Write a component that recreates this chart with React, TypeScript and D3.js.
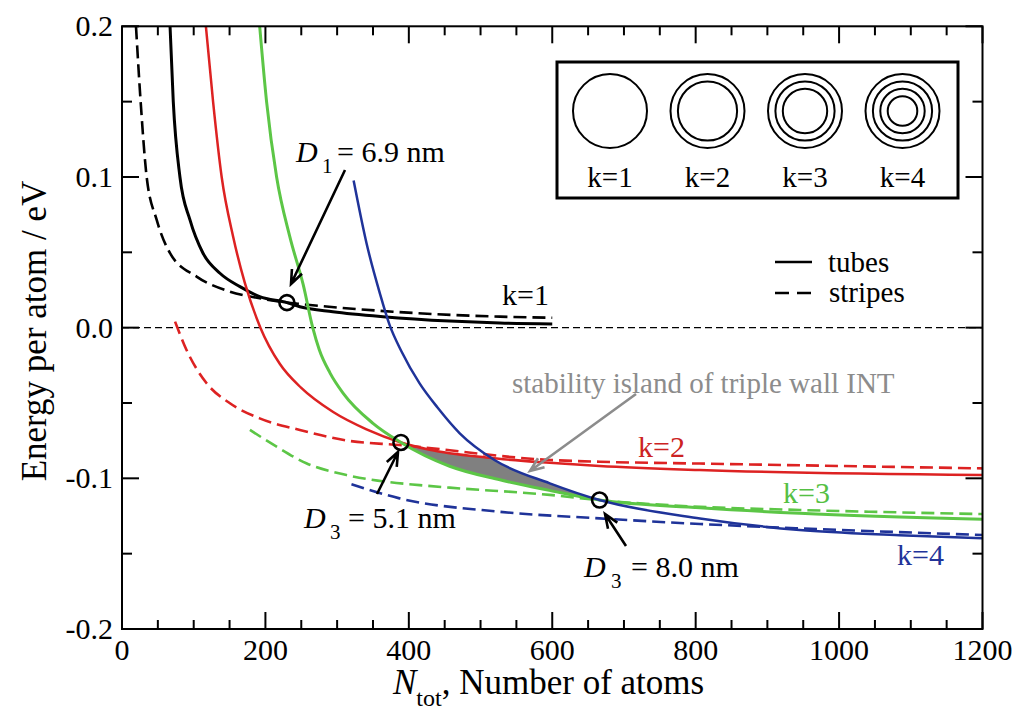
import React from "react";
import * as d3 from "d3";

type P = [number, number];

// ---------- data (N_tot, energy per atom in eV) ----------
const tubesK1: P[] = [[67, 0.2], [71.5, 0.15], [80.8, 0.1], [94.8, 0.0715], [113, 0.0494], [136.6, 0.0361], [164.5, 0.0272], [192, 0.0206], [230, 0.0166], [248, 0.0139], [294, 0.0106], [364, 0.0073], [457, 0.0044], [527, 0.0031], [600, 0.0025]];
const stripesK1: P[] = [[19.5, 0.2], [26, 0.15], [34.4, 0.1], [48.4, 0.0715], [67, 0.0494], [104, 0.0339], [150.5, 0.0239], [192, 0.0195], [230, 0.0166], [248, 0.0157], [378, 0.0106], [527, 0.0073], [600, 0.0066]];
const tubesK2: P[] = [[117, 0.2], [127, 0.15], [139, 0.1], [155, 0.0604], [171.4, 0.0295], [193, 0], [220, -0.024], [250, -0.04], [294.5, -0.056], [341, -0.0675], [389, -0.0762], [429, -0.081], [508, -0.0862], [596.5, -0.0897], [666, -0.0918], [805.6, -0.0945], [1200, -0.0978]];
const stripesK2: P[] = [[74, 0.004], [90, -0.0148], [118, -0.0369], [150.5, -0.0502], [192, -0.0602], [248, -0.0679], [318, -0.0752], [387, -0.0779], [596.5, -0.0878], [666, -0.089], [805.6, -0.0902], [1200, -0.0934]];
const tubesK3: P[] = [[192, 0.2], [201.6, 0.15], [215.6, 0.1], [234, 0.0604], [252.7, 0.0285], [266, 0], [275, -0.0145], [290, -0.03], [308.5, -0.0436], [350, -0.0635], [389, -0.0762], [457, -0.092], [527, -0.101], [596, -0.108], [666, -0.1144], [806, -0.1195], [945, -0.1232], [1200, -0.1272]];
const stripesK3: P[] = [[178.4, -0.0679], [215.6, -0.079], [257, -0.09], [313, -0.0978], [369, -0.1023], [415, -0.1045], [457, -0.1062], [596.5, -0.111], [666, -0.1145], [806, -0.1189], [945, -0.121], [1200, -0.1237]];
const tubesK4: P[] = [[323, 0.0976], [341, 0.056], [359.6, 0.0228], [373, 0.002], [390, -0.016], [415, -0.037], [440, -0.053], [471, -0.0701], [520, -0.088], [596.5, -0.1033], [666, -0.1144], [806, -0.1266], [945, -0.1343], [1084, -0.1377], [1200, -0.1398]];
const stripesK4: P[] = [[320, -0.104], [387, -0.1133], [527, -0.1222], [666, -0.1266], [806, -0.1303], [945, -0.1332], [1200, -0.1376]];

const crossPoints: P[] = [[230, 0.0166], [389, -0.0762], [666, -0.1144]];
const xMajorTicks = [0, 200, 400, 600, 800, 1000, 1200];
const yMajorTicks = [-0.2, -0.1, 0, 0.1, 0.2];
const yTickLabels = ["-0.2", "-0.1", "0.0", "0.1", "0.2"];
const kValues = [1, 2, 3, 4];
const kColors = ["#000000", "#dd2222", "#5cc646", "#1f3399"];
const kTextColors = ["#000000", "#cc2222", "#55c043", "#223399"];

const FONT = "Liberation Serif";

const L = 122, R = 982.5, T = 26.3, B = 629;
const x = d3.scaleLinear().domain([0, 1200]).range([L, R]);
const y = d3.scaleLinear().domain([-0.2, 0.2]).range([B, T]);
const line = d3.line<P>().x(d => x(d[0])).y(d => y(d[1])).curve(d3.curveMonotoneX);

function arrow(x1: number, y1: number, x2: number, y2: number, len = 15, ang = 0.38) {
  const a = Math.atan2(y2 - y1, x2 - x1);
  const p1 = [x2 - len * Math.cos(a - ang), y2 - len * Math.sin(a - ang)];
  const p2 = [x2 - len * Math.cos(a + ang), y2 - len * Math.sin(a + ang)];
  return `M${x1},${y1}L${x2},${y2}M${p1[0]},${p1[1]}L${x2},${y2}L${p2[0]},${p2[1]}`;
}

function closeTo(pts: P[], yEdge: number) {
  const first = pts[0], last = pts[pts.length - 1];
  return `${line(pts)}L${x(last[0])},${yEdge}L${x(first[0])},${yEdge}Z`;
}

export default function App() {
  const series = [
    { k: 1, solid: tubesK1, dashed: stripesK1, w: 3 },
    { k: 2, solid: tubesK2, dashed: stripesK2, w: 2.5 },
    { k: 3, solid: tubesK3, dashed: stripesK3, w: 3 },
    { k: 4, solid: tubesK4, dashed: stripesK4, w: 2.5 },
  ];
  const xMinor = x.ticks(24);
  const yMinor = y.ticks(8);
  const fillX0 = x(crossPoints[1][0]);
  const fillX1 = x(crossPoints[2][0]);

  return (
    <svg width={1024} height={718} style={{ position: "absolute", left: 0, top: 0, fontFamily: FONT }}>
      <defs>
        <clipPath id="plot"><rect x={L} y={T} width={R - L} height={B - T} /></clipPath>
        <clipPath id="aboveGreen"><path d={closeTo(tubesK3, T - 20)} /></clipPath>
        <clipPath id="belowRed"><path d={closeTo(tubesK2, B + 20)} /></clipPath>
        <clipPath id="belowBlue"><path d={closeTo(tubesK4, B + 20)} /></clipPath>
      </defs>
      <rect width={1024} height={718} fill="#fff" />

      <g clipPath="url(#plot)">
        <line x1={L} x2={R} y1={y(0)} y2={y(0)} stroke="#000" strokeWidth={1.4} strokeDasharray="7,4" />
        <g clipPath="url(#aboveGreen)">
          <g clipPath="url(#belowRed)">
            <rect x={fillX0} y={T} width={fillX1 - fillX0} height={B - T} fill="#808080" clipPath="url(#belowBlue)" />
          </g>
        </g>
        {series.map((s, i) => (
          <g key={s.k}>
            <path d={line(s.dashed) || ""} fill="none" stroke={kColors[i]} strokeWidth={2.6} strokeDasharray="13,6" />
            <path d={line(s.solid) || ""} fill="none" stroke={kColors[i]} strokeWidth={s.w} />
          </g>
        ))}
      </g>

      {crossPoints.map((p, i) => (
        <circle key={i} cx={x(p[0])} cy={y(p[1])} r={7.5} fill="none" stroke="#000" strokeWidth={2.6} />
      ))}

      {/* annotation arrows */}
      <path d={arrow(345, 170, 291, 284)} fill="none" stroke="#000" strokeWidth={2.6} />
      <path d={arrow(377, 494, 398, 452)} fill="none" stroke="#000" strokeWidth={2.6} />
      <path d={arrow(626, 546, 605, 514)} fill="none" stroke="#000" strokeWidth={2.6} />
      <path d={arrow(636, 394, 530, 471)} fill="none" stroke="#8c8c8c" strokeWidth={2.6} />

      <g style={{ fontFamily: FONT }}>
        {/* annotation texts */}
        <text x={296} y={162} fontSize={30}>
          <tspan fontStyle="italic">D</tspan>
          <tspan x={322} dy={11} fontSize={21}>1</tspan>
          <tspan x={337} dy={-11}>= 6.9 nm</tspan>
        </text>
        <text x={304} y={528} fontSize={30}>
          <tspan fontStyle="italic">D</tspan>
          <tspan x={330} dy={11} fontSize={21}>3</tspan>
          <tspan x={348} dy={-11}>= 5.1 nm</tspan>
        </text>
        <text x={584} y={577} fontSize={30}>
          <tspan fontStyle="italic">D</tspan>
          <tspan x={611} dy={11} fontSize={21}>3</tspan>
          <tspan x={631} dy={-11}>= 8.0 nm</tspan>
        </text>
        <text x={512} y={393} fontSize={29} fill="#8c8c8c">stability island of triple wall INT</text>
        <text x={502} y={305} fontSize={30} fill={kTextColors[0]}>k=1</text>
        <text x={638} y={457} fontSize={30} fill={kTextColors[1]}>k=2</text>
        <text x={783} y={503} fontSize={30} fill={kTextColors[2]}>k=3</text>
        <text x={897} y={565} fontSize={30} fill={kTextColors[3]}>k=4</text>

        {xMajorTicks.map(v => (
          <text key={"xl" + v} x={x(v)} y={660} fontSize={30} textAnchor="middle">{v}</text>
        ))}
        {yMajorTicks.map((v, i) => (
          <text key={"yl" + v} x={113} y={y(v) + 10} fontSize={30} textAnchor="end">{yTickLabels[i]}</text>
        ))}

        {/* axis titles */}
        <text x={393} y={694} fontSize={35}>
          <tspan fontStyle="italic">N</tspan>
          <tspan fontSize={24} dy={12}>tot</tspan>
          <tspan dy={-12}>, Number of atoms</tspan>
        </text>
        <text transform="translate(46,331) rotate(-90)" fontSize={35} textAnchor="middle">Energy per atom / eV</text>
      </g>

      {/* frame and ticks */}
      <rect x={L} y={T} width={R - L} height={B - T} fill="none" stroke="#000" strokeWidth={2} />
      {xMinor.map(v => {
        const major = xMajorTicks.includes(v);
        const len = major ? 17 : 9;
        return (
          <g key={"x" + v}>
            <line x1={x(v)} x2={x(v)} y1={B} y2={B - len} stroke="#000" strokeWidth={2} />
            <line x1={x(v)} x2={x(v)} y1={T} y2={T + len} stroke="#000" strokeWidth={2} />
          </g>
        );
      })}
      {yMinor.map(v => {
        const major = yMajorTicks.some(t => Math.abs(t - v) < 1e-9);
        const len = major ? 17 : 10;
        return (
          <g key={"y" + v}>
            <line x1={L} x2={L + len} y1={y(v)} y2={y(v)} stroke="#000" strokeWidth={2} />
            <line x1={R} x2={R - len} y1={y(v)} y2={y(v)} stroke="#000" strokeWidth={2} />
          </g>
        );
      })}

      {/* inset */}
      <rect x={557} y={62} width={401} height={136} fill="#fff" stroke="#000" strokeWidth={3} />
      {kValues.map((k, i) => {
        const cx = 610 + i * 97.5;
        return (
          <g key={"ins" + k}>
            {d3.range(k).map(j => (
              <circle key={j} cx={cx} cy={111} r={37 - j * 7.4} fill="none" stroke="#000" strokeWidth={2} />
            ))}
            <text x={cx} y={187} fontSize={29} textAnchor="middle" style={{ fontFamily: FONT }}>k={k}</text>
          </g>
        );
      })}

      {/* legend */}
      <line x1={775} x2={812} y1={262} y2={262} stroke="#000" strokeWidth={2.6} />
      <text x={828} y={272} fontSize={29} style={{ fontFamily: FONT }}>tubes</text>
      <line x1={775} x2={812} y1={293} y2={293} stroke="#000" strokeWidth={2.6} strokeDasharray="14,8" />
      <text x={829} y={302} fontSize={29} style={{ fontFamily: FONT }}>stripes</text>
    </svg>
  );
}
